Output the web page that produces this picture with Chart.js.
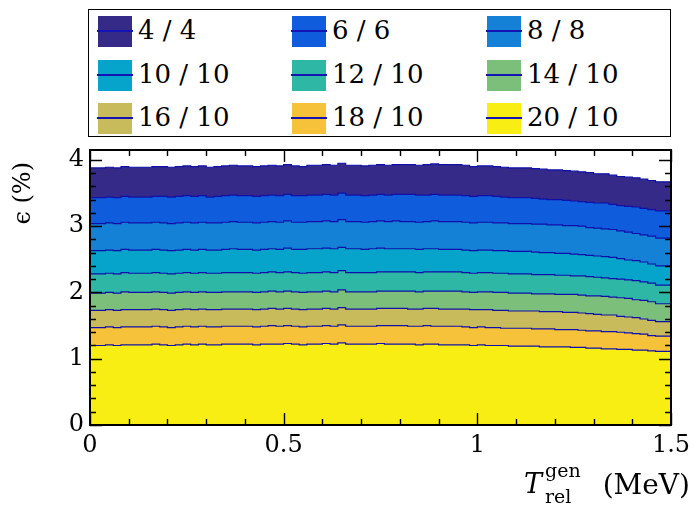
<!DOCTYPE html>
<html>
<head>
<meta charset="utf-8">
<script src="https://cdn.jsdelivr.net/npm/chart.js@4/dist/chart.umd.min.js"></script>
<style>
  html, body { margin: 0; padding: 0; background: #fff; }
  #wrap { position: relative; width: 695px; height: 507px; }
  #plot { position: absolute; left: 0; top: 0; }
  #legend {
    position: absolute; left: 88px; top: 9px; width: 581px; height: 126px;
    border: 1.5px solid #000; background: #fff;
    font-family: "DejaVu Serif", serif; font-size: 26px; color: #000;
  }
  .item { position: absolute; height: 31px; }
  .sw { position: absolute; left: 0; top: 0; width: 34px; height: 31px; }
  .sw::after {
    content: ""; position: absolute; left: -1px; right: -1px; top: 14px;
    height: 2px; background: #1414b4;
  }
  .lab { position: absolute; left: 40px; top: -1px; line-height: 31px; white-space: pre; }
</style>
</head>
<body>
<div id="wrap">
  <canvas id="plot" width="695" height="507"></canvas>
  <div id="legend"></div>
</div>
<script>
// selections (cut labels) and their fill colours
const labels = ["4 / 4", "6 / 6", "8 / 8", "10 / 10", "12 / 10", "14 / 10", "16 / 10", "18 / 10", "20 / 10"];
const fills = ["#352a87", "#0f5cdd", "#1481d6", "#06a4ca", "#2eb7a4", "#7cbf7b", "#c8bb5c", "#f5c23a", "#f9ee13"];

// histogram binning of T_rel^gen (MeV)
const xMin = 0, xMax = 1.5, binWidth = 0.02;

// efficiency (%) per bin, one array per selection
const eff4_4 = [3.86,3.88,3.88,3.89,3.88,3.90,3.89,3.89,3.89,3.90,3.90,3.89,3.90,3.91,3.90,3.91,3.89,3.90,3.91,3.92,3.91,3.91,3.90,3.91,3.92,3.91,3.93,3.91,3.90,3.92,3.92,3.93,3.92,3.95,3.92,3.92,3.91,3.92,3.93,3.92,3.93,3.93,3.93,3.92,3.93,3.94,3.93,3.93,3.93,3.92,3.90,3.91,3.91,3.90,3.89,3.88,3.88,3.88,3.87,3.86,3.85,3.85,3.84,3.83,3.82,3.81,3.79,3.79,3.77,3.75,3.74,3.73,3.71,3.69,3.67];
const eff6_6 = [3.41,3.43,3.43,3.44,3.43,3.45,3.44,3.44,3.44,3.45,3.45,3.44,3.45,3.46,3.45,3.46,3.44,3.45,3.46,3.47,3.46,3.46,3.45,3.46,3.47,3.46,3.48,3.46,3.46,3.47,3.47,3.48,3.47,3.50,3.47,3.47,3.46,3.47,3.48,3.47,3.48,3.48,3.48,3.47,3.47,3.48,3.47,3.47,3.47,3.46,3.45,3.46,3.46,3.45,3.44,3.43,3.43,3.43,3.42,3.41,3.40,3.40,3.39,3.38,3.37,3.36,3.35,3.35,3.33,3.31,3.30,3.29,3.27,3.25,3.23];
const eff8_8 = [3.02,3.04,3.04,3.05,3.04,3.06,3.05,3.05,3.05,3.06,3.05,3.04,3.05,3.06,3.05,3.06,3.05,3.05,3.06,3.07,3.06,3.06,3.05,3.06,3.07,3.06,3.08,3.06,3.06,3.07,3.07,3.08,3.07,3.10,3.07,3.07,3.06,3.07,3.08,3.07,3.08,3.07,3.07,3.06,3.07,3.08,3.07,3.07,3.07,3.06,3.05,3.06,3.06,3.05,3.05,3.04,3.04,3.04,3.03,3.03,3.02,3.02,3.01,3.01,3.00,2.98,2.97,2.96,2.95,2.93,2.91,2.89,2.87,2.85,2.82];
const eff10_10 = [2.61,2.63,2.63,2.64,2.63,2.65,2.64,2.64,2.64,2.65,2.64,2.63,2.64,2.65,2.64,2.65,2.64,2.64,2.65,2.66,2.65,2.65,2.64,2.65,2.66,2.65,2.67,2.65,2.65,2.66,2.66,2.67,2.66,2.68,2.66,2.66,2.65,2.66,2.67,2.66,2.66,2.66,2.66,2.65,2.66,2.66,2.65,2.65,2.65,2.64,2.63,2.64,2.64,2.63,2.63,2.62,2.62,2.62,2.61,2.60,2.60,2.59,2.59,2.58,2.57,2.56,2.55,2.54,2.53,2.51,2.49,2.48,2.46,2.43,2.40];
const eff12_10 = [2.27,2.28,2.28,2.29,2.28,2.30,2.29,2.29,2.29,2.30,2.29,2.28,2.29,2.30,2.29,2.30,2.29,2.29,2.30,2.30,2.30,2.30,2.29,2.30,2.31,2.30,2.31,2.30,2.29,2.30,2.30,2.31,2.30,2.33,2.30,2.30,2.30,2.30,2.31,2.31,2.31,2.31,2.31,2.30,2.31,2.31,2.31,2.31,2.31,2.30,2.29,2.30,2.30,2.29,2.29,2.28,2.28,2.28,2.27,2.27,2.27,2.26,2.26,2.25,2.25,2.24,2.23,2.22,2.21,2.20,2.19,2.18,2.16,2.14,2.11];
const eff14_10 = [1.98,1.99,1.99,2.00,1.99,2.01,2.00,2.00,2.00,2.01,2.00,1.99,2.00,2.01,2.00,2.01,2.00,2.00,2.01,2.01,2.01,2.01,2.00,2.01,2.02,2.01,2.02,2.01,2.00,2.01,2.01,2.02,2.01,2.04,2.01,2.01,2.01,2.01,2.02,2.02,2.02,2.02,2.02,2.01,2.02,2.02,2.02,2.02,2.02,2.01,2.00,2.01,2.01,2.00,2.00,1.99,1.99,1.99,1.98,1.98,1.98,1.97,1.97,1.97,1.96,1.95,1.95,1.94,1.93,1.92,1.91,1.89,1.88,1.86,1.83];
const eff16_10 = [1.72,1.73,1.73,1.74,1.73,1.74,1.74,1.74,1.74,1.75,1.74,1.73,1.74,1.75,1.74,1.75,1.74,1.74,1.75,1.75,1.75,1.75,1.74,1.75,1.76,1.75,1.76,1.75,1.74,1.75,1.75,1.76,1.75,1.77,1.75,1.75,1.75,1.75,1.76,1.76,1.76,1.76,1.75,1.75,1.76,1.76,1.75,1.75,1.75,1.75,1.74,1.74,1.74,1.73,1.73,1.72,1.72,1.72,1.72,1.71,1.71,1.71,1.70,1.70,1.69,1.68,1.67,1.66,1.66,1.64,1.63,1.62,1.60,1.58,1.56];
const eff18_10 = [1.46,1.47,1.47,1.48,1.47,1.48,1.48,1.48,1.48,1.49,1.48,1.47,1.48,1.49,1.48,1.49,1.48,1.48,1.49,1.49,1.49,1.49,1.48,1.49,1.50,1.49,1.50,1.49,1.48,1.49,1.49,1.50,1.49,1.51,1.49,1.49,1.49,1.49,1.50,1.50,1.50,1.50,1.49,1.49,1.50,1.49,1.49,1.49,1.49,1.48,1.47,1.48,1.47,1.47,1.46,1.46,1.46,1.46,1.45,1.45,1.45,1.44,1.44,1.44,1.43,1.42,1.42,1.41,1.41,1.40,1.39,1.38,1.37,1.35,1.34];
const eff20_10 = [1.19,1.20,1.20,1.21,1.20,1.21,1.21,1.21,1.21,1.22,1.21,1.20,1.21,1.22,1.21,1.22,1.21,1.21,1.22,1.22,1.22,1.22,1.21,1.22,1.22,1.22,1.23,1.22,1.21,1.22,1.22,1.23,1.22,1.24,1.22,1.22,1.22,1.22,1.23,1.22,1.22,1.22,1.22,1.21,1.22,1.22,1.21,1.21,1.21,1.21,1.20,1.21,1.20,1.20,1.20,1.19,1.19,1.19,1.19,1.18,1.18,1.18,1.18,1.17,1.17,1.16,1.16,1.15,1.15,1.14,1.14,1.13,1.13,1.12,1.11];

const series = [eff4_4, eff6_6, eff8_8, eff10_10, eff12_10, eff14_10, eff16_10, eff18_10, eff20_10];

const yMin = 0, yMax = 4.15;
const FONT = "DejaVu Serif";

// turn bin contents into step points (lower bin edges + closing point)
function toSteps(vals) {
  const pts = vals.map((v, i) => ({ x: xMin + i * binWidth, y: v }));
  pts.push({ x: xMax, y: vals[vals.length - 1] });
  return pts;
}

// legend box, 3 columns x 3 rows
function buildLegend() {
  const box = document.getElementById("legend");
  const colX = [9, 203, 398], rowY = [6, 50, 93];
  labels.forEach((lab, i) => {
    const it = document.createElement("div");
    it.className = "item";
    it.style.left = colX[i % 3] + "px";
    it.style.top = rowY[Math.floor(i / 3)] + "px";
    const sw = document.createElement("div");
    sw.className = "sw";
    sw.style.background = fills[i];
    const t = document.createElement("div");
    t.className = "lab";
    t.textContent = lab;
    it.appendChild(sw);
    it.appendChild(t);
    box.appendChild(it);
  });
}

// frame + inward ticks on all four sides (ROOT style)
const frameTicks = {
  id: "frameTicks",
  afterDatasetsDraw(chart) {
    const { ctx, chartArea: a, scales: { x, y } } = chart;
    ctx.save();
    ctx.strokeStyle = "#000";
    ctx.lineWidth = 1.4;
    ctx.beginPath();
    for (let k = 0; k <= 15; k++) {
      const px = Math.round(x.getPixelForValue(k * 0.1)) + 0.5;
      const len = k % 5 === 0 ? 12 : 6;
      ctx.moveTo(px, a.bottom); ctx.lineTo(px, a.bottom - len);
      ctx.moveTo(px, a.top); ctx.lineTo(px, a.top + len);
    }
    for (let k = 0; k <= 20; k++) {
      const py = Math.round(y.getPixelForValue(k * 0.2)) + 0.5;
      const len = k % 5 === 0 ? 12 : 6;
      ctx.moveTo(a.left, py); ctx.lineTo(a.left + len, py);
      ctx.moveTo(a.right, py); ctx.lineTo(a.right - len, py);
    }
    ctx.stroke();
    ctx.lineWidth = 2;
    ctx.strokeRect(a.left, a.top, a.right - a.left, a.bottom - a.top);
    ctx.restore();
  },
  afterDraw(chart) {
    const { ctx } = chart;
    ctx.save();
    ctx.fillStyle = "#000";
    // y title
    ctx.translate(30, 162);
    ctx.rotate(-Math.PI / 2);
    ctx.font = "24px '" + FONT + "'";
    ctx.textAlign = "right";
    ctx.textBaseline = "alphabetic";
    ctx.fillText("\u03F5 (%)", 0, 0);
    ctx.restore();

    // x title: T_rel^gen (MeV)
    ctx.save();
    ctx.fillStyle = "#000";
    ctx.textBaseline = "alphabetic";
    ctx.textAlign = "left";
    ctx.font = "italic 27px '" + FONT + "'";
    ctx.fillText("T", 524, 493);
    ctx.font = "19px '" + FONT + "'";
    ctx.fillText("gen", 545, 477);
    ctx.fillText("rel", 545, 503);
    ctx.font = "28px '" + FONT + "'";
    ctx.textAlign = "right";
    ctx.fillText("(MeV)", 690, 494);
    ctx.restore();
  }
};

const fmtTick = (v) => String(+Number(v).toFixed(2));

window.addEventListener("DOMContentLoaded", () => {
  buildLegend();

  const datasets = series.map((vals, i) => ({
    label: labels[i],
    data: toSteps(vals),
    stepped: "after",
    fill: "origin",
    backgroundColor: fills[i],
    borderColor: "#1010a8",
    borderWidth: 1.2,
    pointRadius: 0,
    order: series.length - i
  }));

  new Chart(document.getElementById("plot"), {
    type: "line",
    data: { datasets },
    options: {
      responsive: false,
      animation: false,
      layout: { padding: { top: 150, right: 24, left: 0, bottom: 0 } },
      scales: {
        x: {
          type: "linear", min: xMin, max: xMax,
          grid: { display: false, drawTicks: false }, border: { display: false },
          ticks: { stepSize: 0.5, includeBounds: false, color: "#000", padding: 6,
                   maxRotation: 0, callback: fmtTick, font: { family: FONT, size: 24 } },
          afterFit: (s) => { s.height = 82; s.paddingLeft = 0; s.paddingRight = 0; }
        },
        y: {
          min: yMin, max: yMax,
          grid: { display: false, drawTicks: false }, border: { display: false },
          ticks: { stepSize: 1, includeBounds: false, color: "#000", padding: 6,
                   callback: fmtTick, font: { family: FONT, size: 24 } },
          afterFit: (s) => { s.width = 90; s.paddingTop = 0; s.paddingBottom = 0; }
        }
      },
      plugins: { legend: { display: false }, tooltip: { enabled: false } }
    },
    plugins: [frameTicks]
  });
});
</script>
</body>
</html>
